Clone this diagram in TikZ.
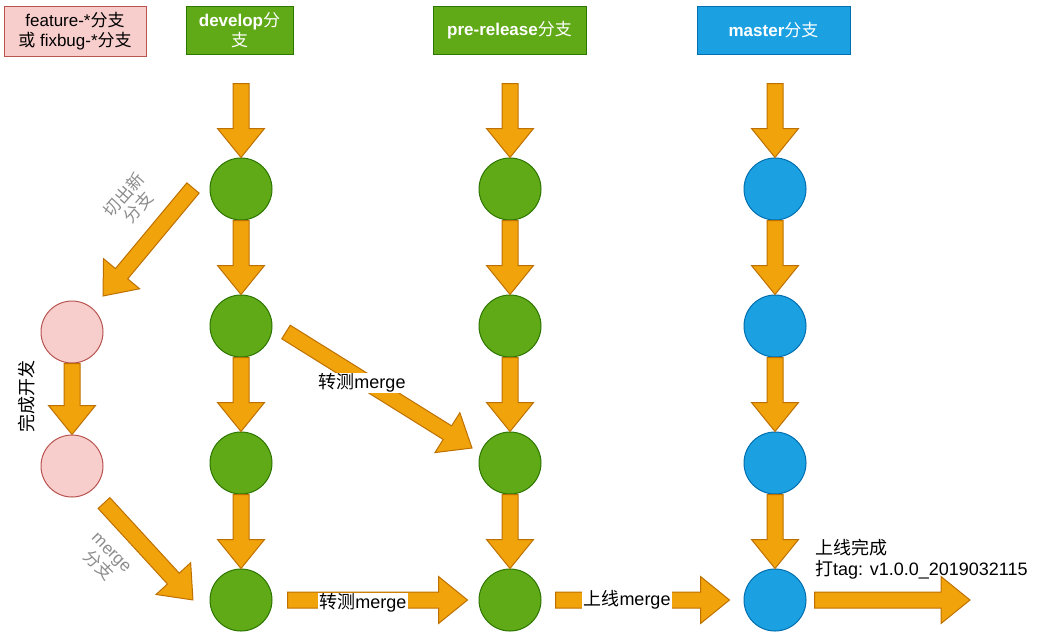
\documentclass[tikz,border=0pt]{standalone}
\usepackage{fontspec}
\setmainfont{Liberation Sans}
\newfontfamily\zhfont{Noto Sans CJK SC}
\newcommand{\zh}[1]{{\zhfont #1}}
\usetikzlibrary{calc}
\definecolor{arrowfill}{HTML}{F0A30A}
\definecolor{arrowline}{HTML}{BD7000}
\definecolor{devfill}{HTML}{60A917}
\definecolor{devline}{HTML}{2D7600}
\definecolor{mstfill}{HTML}{1BA1E2}
\definecolor{mstline}{HTML}{006EAF}
\definecolor{featfill}{HTML}{F8CECC}
\definecolor{featline}{HTML}{B85450}
\definecolor{notegray}{HTML}{8C8C8C}
\tikzset{
  tail gap/.store in=\flowtail,
  tip gap/.store in=\flowtip,
  flow/.style={tail gap=0, tip gap=0, fill=arrowfill, draw=arrowline,
    line width=1pt, line join=miter,
    to path={let \p1=(\tikztostart), \p2=(\tikztotarget),
      \n1={atan2(\y2-\y1,\x2-\x1)},
      \n2={veclen(\x2-\x1,\y2-\y1)-\flowtip},
      \n3={\n2-29} in
      {[shift={(\p1)}, rotate=\n1]
        (\flowtail pt,8pt) -- (\n3,8pt) -- (\n3,23.5pt) -- (\n2,0pt)
        -- (\n3,-23.5pt) -- (\n3,-8pt) -- (\flowtail pt,-8pt) -- cycle}}},
  branch/.style={rectangle, minimum height=48pt, line width=1pt, align=center,
    inner sep=2pt, font=\fontsize{17}{20}\selectfont},
  commit/.style={circle, minimum size=62pt, inner sep=0pt, line width=1pt},
  dev/.style={commit, fill=devfill, draw=devline},
  mst/.style={commit, fill=mstfill, draw=mstline},
  feat/.style={commit, fill=featfill, draw=featline},
  lbl/.style={fill=white, inner sep=1pt, font=\fontsize{18}{21}\selectfont},
  note/.style={text=notegray, align=center, inner sep=0pt,
    font=\fontsize{17}{19}\selectfont}
}
\begin{document}
\begin{tikzpicture}[x=1pt, y=-1pt]
  \useasboundingbox (0,0) rectangle (1040,638);
  % branch headers
  \node[branch, fill=featfill, draw=featline, minimum width=142pt, minimum height=50pt]
    (fh) at (75,31) {feature-*\zh{分支}\\\zh{或} fixbug-*\zh{分支}};
  \node[branch, fill=devfill, draw=devline, text=white, minimum width=107pt]
    (dh) at (239.5,30) {\textbf{develop}\zh{分}\\\zh{支}};
  \node[branch, fill=devfill, draw=devline, text=white, minimum width=153pt]
    (ph) at (509.5,30) {\textbf{pre-release}\zh{分支}};
  \node[branch, fill=mstfill, draw=mstline, text=white, minimum width=153pt]
    (mh) at (773.5,30) {\textbf{master}\zh{分支}};
  % commits
  \foreach \i/\y in {1/189,2/326,3/463,4/600} {
    \node[dev] (d\i) at (241,\y) {};
    \node[dev] (p\i) at (510,\y) {};
    \node[mst] (m\i) at (775,\y) {};
  }
  \node[feat] (f1) at (72,332) {};
  \node[feat] (f2) at (72,466) {};
  \coordinate (cutS) at (193,188);
  \coordinate (cutE) at (103,296);
  \coordinate (backS) at (104,503);
  \coordinate (backE) at (193,600);
  \coordinate (testS) at (286,332);
  \coordinate (testE) at (472,448);
  \coordinate (out) at (970,600);
  % flows
  \draw[flow, tail gap=29] (d1.north |- dh.south) to (d1.north);
  \draw[flow, tail gap=29] (p1.north |- ph.south) to (p1.north);
  \draw[flow, tail gap=29] (m1.north |- mh.south) to (m1.north);
  \foreach \i/\j in {1/2,2/3,3/4} {
    \draw[flow] (d\i.south) to (d\j.north);
    \draw[flow] (p\i.south) to (p\j.north);
    \draw[flow] (m\i.south) to (m\j.north);
  }
  \draw[flow] (f1.south) to (f2.north);
  \draw[flow] (cutS) to (cutE);
  \draw[flow] (backS) to (backE);
  \draw[flow] (testS) to (testE);
  \draw[flow, tail gap=15, tip gap=11] (d4.east) to (p4.west);
  \draw[flow, tail gap=14, tip gap=14] (p4.east) to (m4.west);
  \draw[flow, tail gap=8] (m4.east) to (out);
  % labels
  \node[note, rotate=49] (cutlbl) at (131,201) {\zh{切出新}\\\zh{分支}};
  \node[note, rotate=-45] (backlbl) at (104,560) {merge\\\zh{分支}};
  \node[lbl, fill=none, rotate=90] (donelbl) at (27,396) {\zh{完成开发}};
  \node[lbl] (testlbl) at (362,383) {\zh{转测}merge};
  \node[lbl] (test2lbl) at (363,603) {\zh{转测}merge};
  \node[lbl] (rellbl) at (627,600) {\zh{上线}merge};
  \node[lbl, fill=none, align=left, anchor=west] (taglbl) at (814,559)
    {\zh{上线完成}\\\zh{打}tag: v1.0.0\_2019032115};
\end{tikzpicture}
\end{document}
